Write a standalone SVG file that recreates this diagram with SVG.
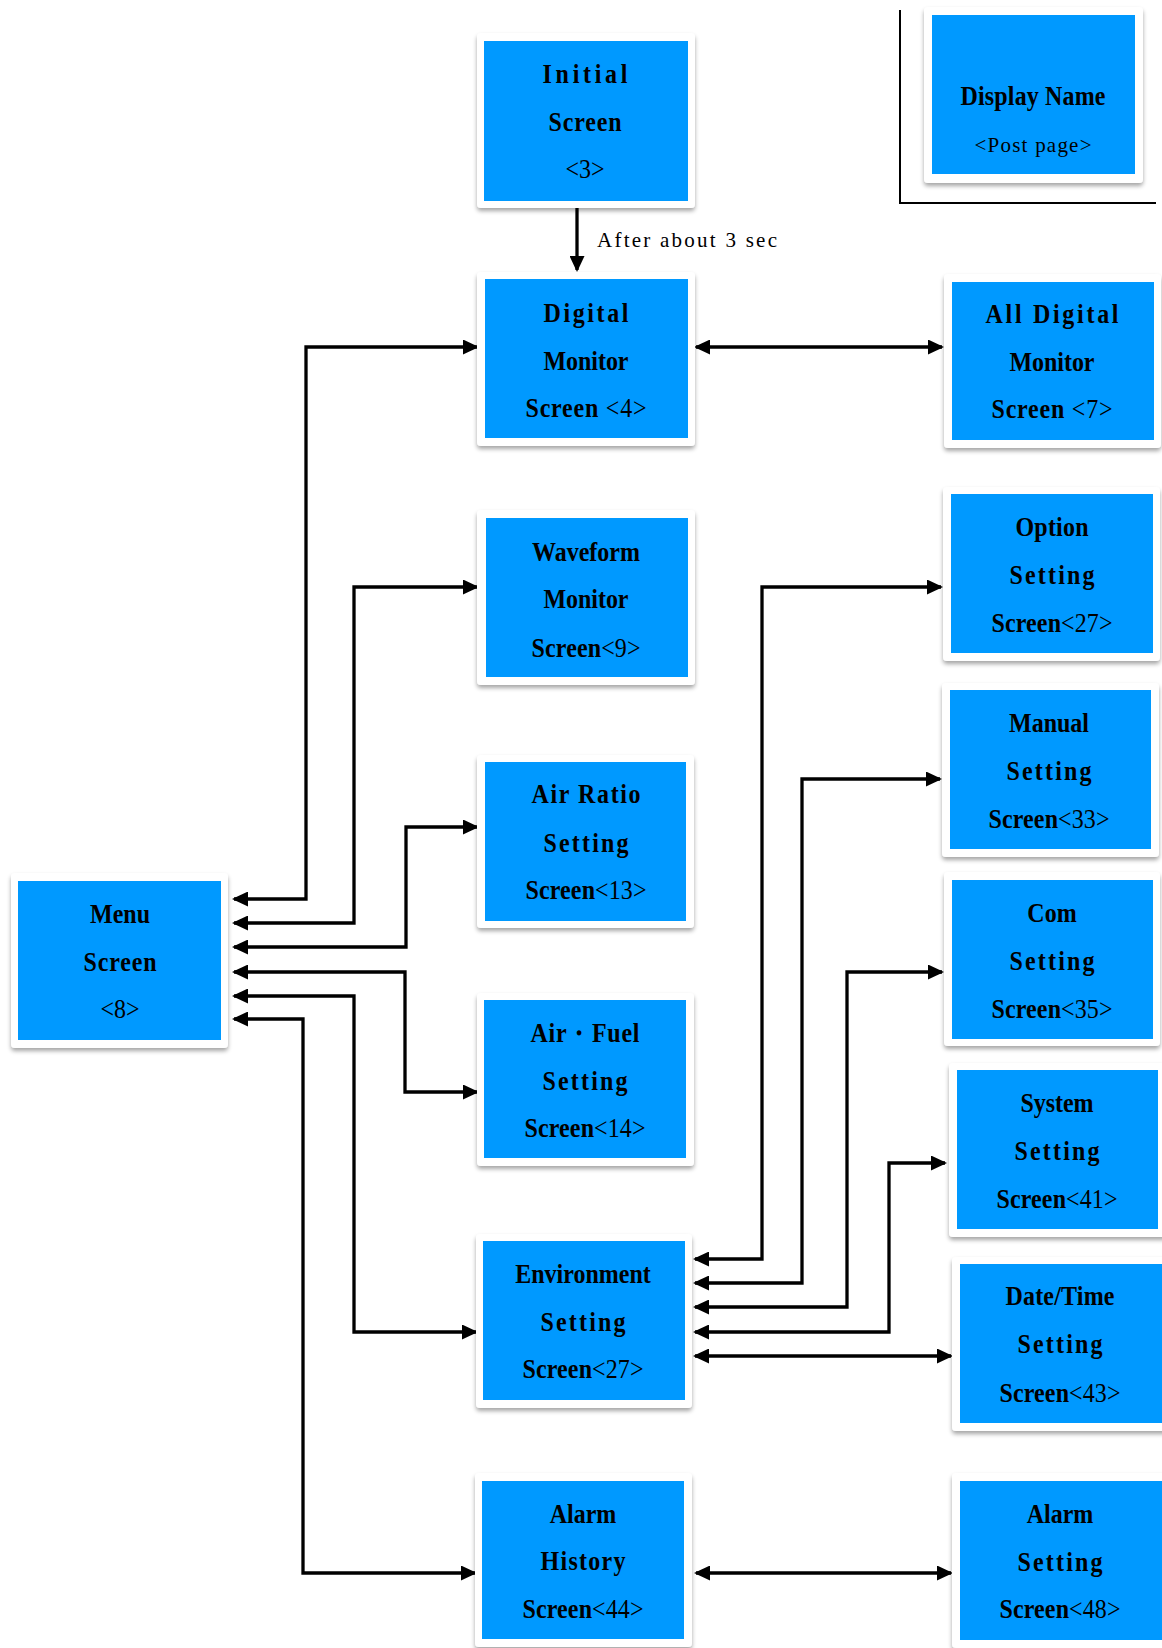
<svg xmlns="http://www.w3.org/2000/svg" width="1162" height="1648" viewBox="0 0 1162 1648">
<style>
.card{fill:#fff;filter:url(#sh)}
.blue{fill:#0099ff}
.t{font-family:"Liberation Serif","DejaVu Serif",serif;font-size:24px;font-weight:bold;text-anchor:middle;fill:#000}
.n{font-weight:normal}
.s{font-family:"Liberation Serif","DejaVu Serif",serif;font-size:21px;font-weight:normal;fill:#000}
.c{fill:none;stroke:#000;stroke-width:3.3;marker-start:url(#ah);marker-end:url(#ah)}
.c1{fill:none;stroke:#000;stroke-width:3.3;marker-end:url(#ah)}
.leg{stroke:#000;stroke-width:2;fill:none}
</style>
<defs>
<filter id="sh" x="-10%" y="-10%" width="120%" height="125%">
<feDropShadow dx="0" dy="3" stdDeviation="2" flood-color="#000" flood-opacity="0.35"/>
</filter>
<marker id="ah" markerUnits="userSpaceOnUse" markerWidth="16" markerHeight="15" refX="14" refY="7.5" orient="auto-start-reverse">
<path d="M0,0 L16,7.5 L0,15 Z" fill="#000"/>
</marker>
</defs>
<rect width="1162" height="1648" fill="#fff"/>

<g id="legend">
<path class="leg" d="M900,10 V203 H1156"/>
<rect class="card" x="924" y="7" width="219" height="176" rx="4"/>
<rect class="blue" x="932" y="15" width="203" height="159"/>
<text class="t" transform="translate(1033 105) scale(1 1.1)" textLength="145">Display Name</text>
<text class="s" text-anchor="middle" transform="translate(1033 152)" textLength="117">&lt;Post page&gt;</text>
</g>

<g id="connectors">
<path class="c" d="M234,899 H306 V347 H477"/>
<path class="c" d="M234,923 H354 V587 H477"/>
<path class="c" d="M234,947 H406 V827 H477"/>
<path class="c" d="M234,972 H405 V1092 H477"/>
<path class="c" d="M234,996 H354 V1332 H476"/>
<path class="c" d="M234,1019 H303 V1573 H475"/>
<path class="c1" d="M577,208 V270"/>
<path class="c" d="M696,347 H942"/>
<path class="c" d="M695,1259 H762 V587 H941"/>
<path class="c" d="M695,1283 H802 V779 H940"/>
<path class="c" d="M695,1307 H847 V972 H942"/>
<path class="c" d="M695,1332 H889 V1163 H945"/>
<path class="c" d="M695,1356 H951"/>
<path class="c" d="M696,1573 H951"/>
<text class="s" x="597" y="247" textLength="180">After about 3 sec</text>
</g>

<g id="initial">
<rect class="card" x="477" y="33" width="218" height="175" rx="4"/>
<rect class="blue" x="484" y="41" width="204" height="160"/>
<text class="t" transform="translate(585 83) scale(1 1.1)" textLength="85">Initial</text>
<text class="t" transform="translate(585 131) scale(1 1.1)" textLength="73">Screen</text>
<text class="t n" transform="translate(585 178) scale(1 1.1)">&lt;3&gt;</text>
</g>

<g id="digital-monitor">
<rect class="card" x="477" y="272" width="218" height="174" rx="4"/>
<rect class="blue" x="485" y="279" width="203" height="159"/>
<text class="t" transform="translate(586 322) scale(1 1.1)" textLength="85">Digital</text>
<text class="t" transform="translate(586 370) scale(1 1.1)" textLength="85">Monitor</text>
<text class="t" transform="translate(586 417) scale(1 1.1)" textLength="121">Screen <tspan class="n">&lt;4&gt;</tspan></text>
</g>

<g id="waveform">
<rect class="card" x="477" y="510" width="218" height="175" rx="4"/>
<rect class="blue" x="486" y="518" width="202" height="159"/>
<text class="t" transform="translate(586 561) scale(1 1.1)">Waveform</text>
<text class="t" transform="translate(586 608) scale(1 1.1)" textLength="85">Monitor</text>
<text class="t" transform="translate(586 657) scale(1 1.1)" textLength="109">Screen<tspan class="n">&lt;9&gt;</tspan></text>
</g>

<g id="air-ratio">
<rect class="card" x="477" y="755" width="217" height="173" rx="4"/>
<rect class="blue" x="485" y="762" width="201" height="159"/>
<text class="t" transform="translate(586 803) scale(1 1.1)" textLength="109">Air Ratio</text>
<text class="t" transform="translate(586 852) scale(1 1.1)" textLength="85">Setting</text>
<text class="t" transform="translate(586 899) scale(1 1.1)" textLength="121">Screen<tspan class="n">&lt;13&gt;</tspan></text>
</g>

<g id="air-fuel">
<rect class="card" x="477" y="993" width="217" height="173" rx="4"/>
<rect class="blue" x="484" y="1000" width="202" height="158"/>
<text class="t" transform="translate(585 1042) scale(1 1.1)" textLength="109">Air・Fuel</text>
<text class="t" transform="translate(585 1090) scale(1 1.1)" textLength="85">Setting</text>
<text class="t" transform="translate(585 1137) scale(1 1.1)" textLength="121">Screen<tspan class="n">&lt;14&gt;</tspan></text>
</g>

<g id="environment">
<rect class="card" x="476" y="1234" width="216" height="174" rx="4"/>
<rect class="blue" x="483" y="1241" width="202" height="159"/>
<text class="t" transform="translate(583 1283) scale(1 1.1)">Environment</text>
<text class="t" transform="translate(583 1331) scale(1 1.1)" textLength="85">Setting</text>
<text class="t" transform="translate(583 1378) scale(1 1.1)" textLength="121">Screen<tspan class="n">&lt;27&gt;</tspan></text>
</g>

<g id="alarm-history">
<rect class="card" x="475" y="1473" width="217" height="174" rx="4"/>
<rect class="blue" x="482" y="1481" width="202" height="158"/>
<text class="t" transform="translate(583 1523) scale(1 1.1)">Alarm</text>
<text class="t" transform="translate(583 1570) scale(1 1.1)" textLength="85">History</text>
<text class="t" transform="translate(583 1618) scale(1 1.1)" textLength="121">Screen<tspan class="n">&lt;44&gt;</tspan></text>
</g>

<g id="menu">
<rect class="card" x="11" y="873" width="217" height="175" rx="4"/>
<rect class="blue" x="18" y="881" width="203" height="159"/>
<text class="t" transform="translate(120 923) scale(1 1.1)">Menu</text>
<text class="t" transform="translate(120 971) scale(1 1.1)" textLength="73">Screen</text>
<text class="t n" transform="translate(120 1018) scale(1 1.1)">&lt;8&gt;</text>
</g>

<g id="all-digital-monitor">
<rect class="card" x="944" y="274" width="217" height="174" rx="4"/>
<rect class="blue" x="952" y="282" width="202" height="158"/>
<text class="t" transform="translate(1052 323) scale(1 1.1)" textLength="133">All Digital</text>
<text class="t" transform="translate(1052 371) scale(1 1.1)" textLength="85">Monitor</text>
<text class="t" transform="translate(1052 418) scale(1 1.1)" textLength="121">Screen <tspan class="n">&lt;7&gt;</tspan></text>
</g>

<g id="option-setting">
<rect class="card" x="943" y="487" width="217" height="174" rx="4"/>
<rect class="blue" x="951" y="494" width="202" height="159"/>
<text class="t" transform="translate(1052 536) scale(1 1.1)" textLength="73">Option</text>
<text class="t" transform="translate(1052 584) scale(1 1.1)" textLength="85">Setting</text>
<text class="t" transform="translate(1052 632) scale(1 1.1)" textLength="121">Screen<tspan class="n">&lt;27&gt;</tspan></text>
</g>

<g id="manual-setting">
<rect class="card" x="942" y="683" width="217" height="174" rx="4"/>
<rect class="blue" x="950" y="690" width="201" height="159"/>
<text class="t" transform="translate(1049 732) scale(1 1.1)">Manual</text>
<text class="t" transform="translate(1049 780) scale(1 1.1)" textLength="85">Setting</text>
<text class="t" transform="translate(1049 828) scale(1 1.1)" textLength="121">Screen<tspan class="n">&lt;33&gt;</tspan></text>
</g>

<g id="com-setting">
<rect class="card" x="944" y="872" width="216" height="174" rx="4"/>
<rect class="blue" x="952" y="880" width="201" height="159"/>
<text class="t" transform="translate(1052 922) scale(1 1.1)">Com</text>
<text class="t" transform="translate(1052 970) scale(1 1.1)" textLength="85">Setting</text>
<text class="t" transform="translate(1052 1018) scale(1 1.1)" textLength="121">Screen<tspan class="n">&lt;35&gt;</tspan></text>
</g>

<g id="system-setting">
<rect class="card" x="949" y="1063" width="218" height="174" rx="4"/>
<rect class="blue" x="957" y="1070" width="201" height="159"/>
<text class="t" transform="translate(1057 1112) scale(1 1.1)" textLength="73">System</text>
<text class="t" transform="translate(1057 1160) scale(1 1.1)" textLength="85">Setting</text>
<text class="t" transform="translate(1057 1208) scale(1 1.1)" textLength="121">Screen<tspan class="n">&lt;41&gt;</tspan></text>
</g>

<g id="date-time-setting">
<rect class="card" x="952" y="1257" width="218" height="174" rx="4"/>
<rect class="blue" x="960" y="1264" width="204" height="159"/>
<text class="t" transform="translate(1060 1305) scale(1 1.1)" textLength="109">Date/Time</text>
<text class="t" transform="translate(1060 1353) scale(1 1.1)" textLength="85">Setting</text>
<text class="t" transform="translate(1060 1402) scale(1 1.1)" textLength="121">Screen<tspan class="n">&lt;43&gt;</tspan></text>
</g>

<g id="alarm-setting">
<rect class="card" x="952" y="1473" width="218" height="175" rx="4"/>
<rect class="blue" x="960" y="1481" width="204" height="159"/>
<text class="t" transform="translate(1060 1523) scale(1 1.1)">Alarm</text>
<text class="t" transform="translate(1060 1571) scale(1 1.1)" textLength="85">Setting</text>
<text class="t" transform="translate(1060 1618) scale(1 1.1)" textLength="121">Screen<tspan class="n">&lt;48&gt;</tspan></text>
</g>
</svg>
